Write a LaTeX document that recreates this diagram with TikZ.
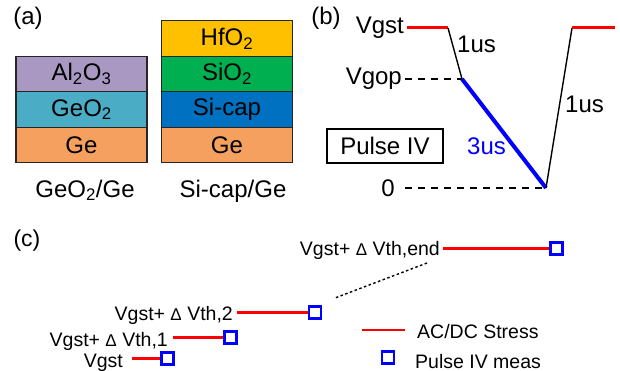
\documentclass[tikz,border=0pt]{standalone}
\usepackage{fontspec}
\setmainfont{Liberation Sans}
\usetikzlibrary{positioning}
\definecolor{aloxc}{HTML}{A898C2}
\definecolor{geoxc}{HTML}{4BACC6}
\definecolor{gec}{HTML}{F5A05F}
\definecolor{hfoxc}{HTML}{FFC000}
\definecolor{sioxc}{HTML}{00B050}
\definecolor{sicapc}{HTML}{0070C0}
\newcommand{\dV}{{\fontsize{17}{17}\selectfont Δ}}

\begin{document}
\begin{tikzpicture}[x=1pt,y=-1pt,
  big/.style={font=\fontsize{24}{28}\selectfont},
  small/.style={font=\fontsize{19.5}{23}\selectfont},
  layer/.style={draw=black!85,line width=1.2pt,minimum width=131pt,minimum height=35.5pt,
    inner sep=0pt,outer sep=0pt,big},
  wave/.style={line width=1.4pt},
  guide/.style={line width=1.4pt,dash pattern=on 7pt off 6pt},
  stress/.style={red,line width=2.6pt},
  meas/.style={draw=blue,line width=2.8pt,fill=white,minimum size=12pt,inner sep=0pt}]
  \useasboundingbox (0,0) rectangle (620,371);

  % (a) gate stacks
  \node[big] (la) at (28,18) {(a)};
  \node[layer,fill=aloxc] (al) at (81.5,74) {Al\textsubscript{2}O\textsubscript{3}};
  \node[layer,fill=geoxc,below=0pt of al] (geo) {GeO\textsubscript{2}};
  \node[layer,fill=gec,below=0pt of geo] (ge1) {Ge};
  \node[big,anchor=base] (capa) at (85,197) {GeO\textsubscript{2}/Ge};

  \node[layer,fill=hfoxc] (hf) at (227,38.5) {HfO\textsubscript{2}};
  \node[layer,fill=sioxc,below=0pt of hf] (sio) {SiO\textsubscript{2}};
  \node[layer,fill=sicapc,below=0pt of sio] (sicap) {Si-cap};
  \node[layer,fill=gec,below=0pt of sicap] (ge2) {Ge};
  \node[big,anchor=base] (capb) at (233,197) {Si-cap/Ge};

  % (b) pulse IV waveform
  \node[big] (lb) at (326,18) {(b)};
  \node[big,anchor=east,inner xsep=3pt] (vgst) at (407,28) {Vgst};
  \node[big,anchor=east,inner xsep=3pt] (vgop) at (405,79) {Vgop};
  \node[big,anchor=east,inner xsep=10pt] (zero) at (405,188) {0};
  \coordinate (p1) at (448,28);
  \coordinate (p2) at (462,79);
  \coordinate (p3) at (546,188);
  \coordinate (p4) at (572,28);
  \coordinate (p5) at (615,28);
  \draw[stress,line width=3pt] (vgst.east) -- (p1);
  \draw[wave] (p1) -- (p2);
  \draw[blue,line width=4pt] (p2) -- (p3);
  \draw[wave] (p3) -- (p4);
  \draw[stress,line width=3pt] (p4) -- (p5);
  \draw[guide] (vgop.east) -- (p2);
  \draw[guide] (zero.east) -- (p3);
  \node[big,anchor=base west,inner sep=0pt] (t1) at (457,53) {1us};
  \node[big,anchor=base west,inner sep=0pt] (t2) at (565,113) {1us};
  \node[big,anchor=base west,inner sep=0pt,text=blue] (t3) at (467,155) {3us};
  \node[big,draw,line width=1.4pt,minimum width=116pt,minimum height=34pt] (piv) at (385,146) {Pulse IV};

  % (c) stress / measure sequence
  \node[font=\fontsize{23}{27}\selectfont] (lc) at (27,241) {(c)};
  \node[small,anchor=base east,inner sep=0pt] (s0) at (123,367) {Vgst};
  \node[meas] (m0) at (167.5,358.5) {};
  \node[small,anchor=base east,inner sep=0pt] (s1) at (168,346) {Vgst+ \dV\ Vth,1};
  \node[meas] (m1) at (230.5,337.5) {};
  \node[small,anchor=base east,inner sep=0pt] (s2) at (233,320) {Vgst+ \dV\ Vth,2};
  \node[meas] (m2) at (315,312.5) {};
  \node[small,anchor=base east,inner sep=0pt] (s3) at (440,255) {Vgst+ \dV\ Vth,end};
  \node[meas] (m3) at (556.5,248.5) {};
  \draw[stress] ([xshift=9pt]s0.east |- m0.west) -- (m0.west);
  \draw[stress] ([xshift=5pt]s1.east |- m1.west) -- (m1.west);
  \draw[stress] ([xshift=4pt]s2.east |- m2.west) -- (m2.west);
  \draw[stress] ([xshift=3pt]s3.east |- m3.west) -- (m3.west);
  \coordinate (d1) at (427,263);
  \coordinate (d2) at (335,298);
  \draw[line width=1.4pt,dash pattern=on 2.5pt off 2.5pt] (d1) -- (d2);

  % legend
  \coordinate (k1) at (362,330);
  \coordinate (k2) at (405,330);
  \draw[stress] (k1) -- (k2);
  \node[small,anchor=base west,inner sep=0pt] (kt1) at (417,338) {AC/DC Stress};
  \node[meas] (km) at (388,357.5) {};
  \node[small,anchor=base west,inner sep=0pt] (kt2) at (415,368) {Pulse IV meas};
\end{tikzpicture}
\end{document}
